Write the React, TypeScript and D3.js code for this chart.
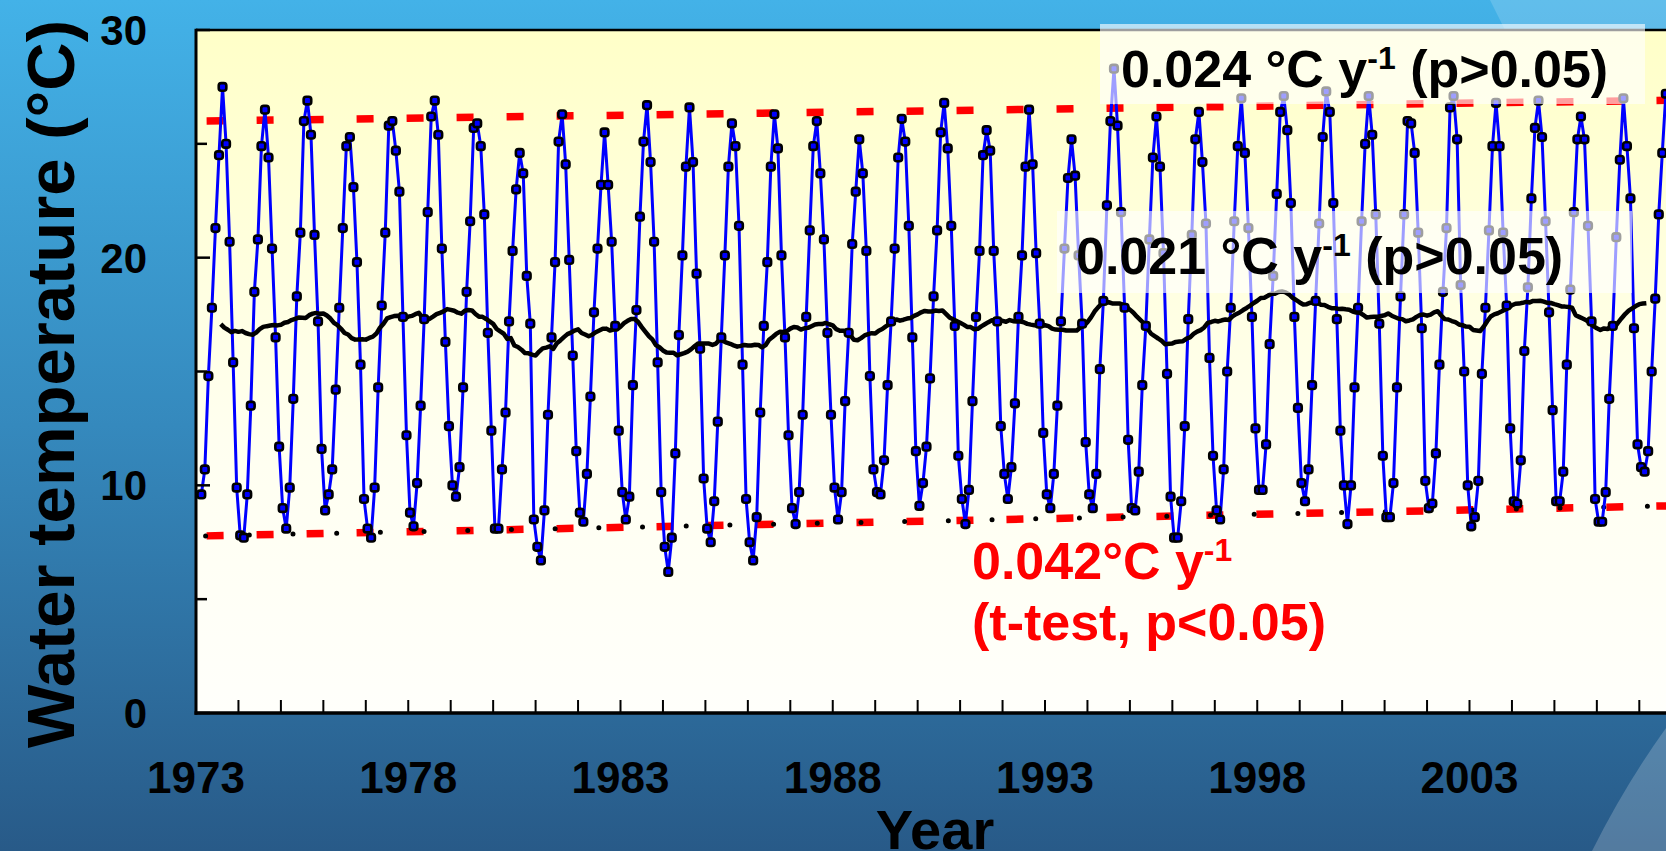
import React from "react";
import * as d3 from "d3";

// monthly water temperature (°C), Jan..Dec, one row per year starting 1973
const firstYear = 1973;
const monthlyTemps: (number | null)[][] = [
  [null, 9.6, 10.7, 14.8, 17.8, 21.3, 24.5, 27.5, 25.0, 20.7, 15.4, 9.9], // 1973
  [7.8, 7.7, 9.6, 13.5, 18.5, 20.8, 24.9, 26.5, 24.4, 20.4, 16.5, 11.7],
  [9.0, 8.1, 9.9, 13.8, 18.3, 21.1, 26.0, 26.9, 25.4, 21.0, 17.2, 11.6],
  [8.9, 9.6, 10.7, 14.2, 17.8, 21.3, 24.9, 25.3, 23.1, 19.8, 15.3, 9.4],
  [8.1, 7.7, 9.9, 14.3, 17.9, 21.1, 25.8, 26.0, 24.7, 22.9, 17.4, 12.2],
  [8.8, 8.2, 10.1, 13.5, 17.3, 22.0, 26.2, 26.9, 25.4, 20.4, 16.3, 12.6], // 1978
  [10.0, 9.5, 10.8, 14.3, 18.5, 21.6, 25.7, 25.9, 24.9, 21.9, 16.7, 12.4],
  [8.1, 8.1, 10.7, 13.2, 17.2, 20.3, 23.0, 24.6, 23.7, 19.2, 17.1, 8.5],
  [7.3, 6.7, 8.9, 13.1, 16.5, 19.8, 25.1, 26.3, 24.1, 19.9, 15.7, 11.5],
  [8.8, 8.4, 10.5, 13.9, 17.6, 20.4, 23.2, 25.5, 23.2, 20.7, 17.0, 12.4],
  [9.7, 8.5, 9.5, 14.4, 17.7, 21.8, 25.1, 26.7, 24.2, 20.7, 15.4, 9.7], // 1983
  [7.3, 6.2, 7.7, 11.4, 16.6, 20.1, 24.0, 26.6, 24.2, 19.3, 16.0, 10.3],
  [8.1, 7.5, 9.3, 12.8, 16.5, 20.1, 24.0, 25.9, 24.9, 21.4, 15.3, 9.4],
  [7.5, 6.7, 8.6, 13.2, 17.0, 19.8, 24.0, 26.3, 24.8, 20.1, 16.5, 12.2],
  [9.0, 8.3, 9.7, 13.1, 17.4, 21.2, 24.9, 26.0, 23.7, 20.8, 16.7, 13.1],
  [9.9, 8.5, 9.7, 13.7, 16.7, 20.6, 22.9, 25.2, 23.7, 20.3, 14.8, 10.7], // 1988
  [9.7, 9.6, 11.1, 14.4, 17.2, 20.4, 24.4, 26.1, 25.1, 21.4, 16.5, 11.5],
  [9.1, 10.1, 11.7, 14.7, 18.3, 21.2, 25.5, 26.8, 24.8, 21.4, 17.0, 11.3],
  [9.4, 8.3, 9.8, 13.7, 17.4, 20.3, 24.5, 25.6, 24.7, 20.3, 17.2, 12.6],
  [10.5, 9.4, 10.8, 13.6, 17.4, 20.1, 24.0, 26.5, 24.1, 20.2, 17.1, 12.3],
  [9.6, 9.0, 10.5, 13.5, 17.2, 20.4, 23.5, 25.2, 23.6, 20.1, 17.1, 11.9], // 1993
  [9.6, 9.0, 10.5, 15.1, 18.1, 22.3, 26.0, 28.3, 25.8, 22.0, 17.8, 12.0],
  [9.0, 8.9, 10.6, 14.4, 17.0, 20.8, 24.4, 26.2, 24.0, 20.2, 14.9, 9.5],
  [7.7, 7.7, 9.3, 12.6, 17.3, 21.0, 25.2, 26.4, 24.2, 21.5, 15.6, 11.3],
  [8.9, 8.5, 10.7, 15.0, 17.8, 21.6, 24.9, 27.0, 24.6, 21.3, 17.4, 12.5],
  [9.8, 9.8, 11.8, 16.2, 19.2, 22.8, 26.4, 27.1, 25.6, 22.4, 17.4, 13.4], // 1998
  [10.1, 9.3, 10.7, 14.4, 18.1, 21.5, 25.3, 27.3, 26.4, 22.4, 17.3, 12.4],
  [10.0, 8.3, 10.0, 14.3, 17.8, 21.6, 25.0, 27.1, 25.4, 21.9, 17.1, 11.3],
  [8.6, 8.6, 10.1, 14.3, 18.3, 21.9, 26.0, 25.9, 24.6, 21.1, 16.9, 10.2],
  [9.0, 9.2, 11.4, 15.3, 18.5, 21.3, 26.6, 27.1, 25.2, 18.8, 15.0, 10.0],
  [8.2, 8.6, 10.2, 14.9, 17.8, 21.2, 24.9, 26.8, 24.9, 21.1, 17.9, 12.5], // 2003
  [9.3, 9.2, 11.1, 15.9, 18.7, 22.6, 25.7, 26.9, 25.3, 21.6, 17.6, 13.3],
  [9.3, 9.3, 10.6, 15.3, 18.6, 22.0, 25.2, 26.2, 25.2, 21.4, 17.2, 9.4],
  [8.4, 8.4, 9.7, 13.8, 17.0, 20.9, 24.3, 27.0, 24.9, 22.6, 16.9, 11.8],
  [10.8, 10.6, 11.5, 15.0, 18.2, 21.9, 24.6, 27.2], // 2007
];

const yearLabels = [1973, 1978, 1983, 1988, 1993, 1998, 2003];
const tempTicks = [0, 5, 10, 15, 20, 25, 30];
const tempLabels = [0, 10, 20, 30];

// trend of annual maxima / minima, read at both ends
const trendYears = [1973.25, 2008];
const maxTrendTemps = [26.0, 26.92];
const minTrendTemps = [7.78, 9.11];

const W = 1666;
const H = 851;
const FONT = "'Liberation Sans', Arial, Helvetica, sans-serif";

const x = d3.scaleLinear().domain([1973, 2008]).range([196, 196 + 35 * 42.45]);
const y = d3.scaleLinear().domain([0, 30]).range([713, 30]);

type Pt = { date: number; t: number | null };

const grid: Pt[] = monthlyTemps.flatMap((row, i) =>
  row.map((t, m) => ({ date: firstYear + i + (m + 0.5) / 12, t }))
);
const points = grid.filter((d) => d.t != null) as { date: number; t: number }[];

// 12-month running mean
const runMean: { date: number; t: number }[] = [];
for (let i = 0; i + 12 <= grid.length; i++) {
  const vals = grid.slice(i, i + 12).map((d) => d.t).filter((v) => v != null) as number[];
  if (vals.length === 12) {
    runMean.push({ date: firstYear + (i + 6) / 12, t: d3.mean(vals) as number });
  }
}

const line = d3
  .line<{ date: number; t: number }>()
  .x((d) => x(d.date))
  .y((d) => y(d.t));

const Sup = ({ children }: { children: string }) => (
  <tspan fontSize={32} dy={-18}>
    {children}
  </tspan>
);

export default function App() {
  return (
    <svg width={W} height={H} style={{ display: "block", position: "absolute", left: 0, top: 0 }} fontFamily={FONT} fontWeight="bold">
      <defs>
        <linearGradient id="bg" x1="0" y1="0" x2="0" y2="1">
          <stop offset="0%" stopColor="#43b2e8" />
          <stop offset="50%" stopColor="#3589bd" />
          <stop offset="100%" stopColor="#285a88" />
        </linearGradient>
        <linearGradient id="plotBg" x1="0" y1="0" x2="0" y2="1">
          <stop offset="0%" stopColor="#ffffc8" />
          <stop offset="60%" stopColor="#fffff0" />
          <stop offset="100%" stopColor="#fffffb" />
        </linearGradient>
      </defs>

      <rect x={0} y={0} width={W} height={H} fill="url(#bg)" />
      <path d="M1490,0 L1666,0 L1666,30 L1505,30 Z" fill="#ffffff" opacity={0.16} />
      <path d="M1592,851 Q1625,785 1666,728 L1666,851 Z" fill="#ffffff" opacity={0.2} />

      <rect x={196} y={30} width={W - 196} height={683} fill="url(#plotBg)" />

      {/* trend lines */}
      <line x1={x(trendYears[0])} x2={x(trendYears[1])} y1={y(maxTrendTemps[0])} y2={y(maxTrendTemps[1])}
        stroke="#ff0000" strokeWidth={7.5} strokeDasharray="17 33" />
      <line x1={x(trendYears[0])} x2={x(trendYears[1])} y1={y(minTrendTemps[0])} y2={y(minTrendTemps[1])}
        stroke="#ff0000" strokeWidth={7.5} strokeDasharray="17 33" />
      <line x1={x(trendYears[0]) - 1} x2={x(trendYears[1])} y1={y(minTrendTemps[0])} y2={y(minTrendTemps[1])}
        stroke="#000" strokeWidth={5} strokeDasharray="0 43.7" strokeLinecap="round" />

      <path d={line(points) ?? ""} fill="none" stroke="#0000ff" strokeWidth={3} />
      <path d={line(runMean) ?? ""} fill="none" stroke="#000" strokeWidth={4.5} strokeLinejoin="round" />

      {points.map((d, i) => (
        <rect key={i} x={x(d.date) - 3.8} y={y(d.t) - 3.8} width={7.6} height={7.6} rx={2.5}
          fill="#0000ff" stroke="#000" strokeWidth={2.6} />
      ))}

      {/* axes */}
      <line x1={196} x2={W} y1={30} y2={30} stroke="#000" strokeWidth={2.5} />
      <line x1={196} x2={196} y1={28.8} y2={714.7} stroke="#000" strokeWidth={3} />
      <line x1={194.5} x2={W} y1={713} y2={713} stroke="#000" strokeWidth={3.4} />
      {tempTicks.map((t) => (
        <line key={t} x1={196} x2={196 + (t % 10 === 0 ? 14 : 11)} y1={y(t)} y2={y(t)} stroke="#000" strokeWidth={2.5} />
      ))}
      {d3.range(1974, 2008).map((yr) => (
        <line key={yr} x1={x(yr)} x2={x(yr)} y1={713} y2={700} stroke="#000" strokeWidth={2} />
      ))}
      {tempLabels.map((t) => (
        <text key={t} x={147} y={y(t) + 15} fontSize={42} textAnchor="end" fill="#000">
          {t}
        </text>
      ))}
      {yearLabels.map((yr) => (
        <text key={yr} x={x(yr)} y={793} fontSize={44} textAnchor="middle" fill="#000">
          {yr}
        </text>
      ))}
      <text x={935} y={849} fontSize={56} textAnchor="middle" fill="#000">
        Year
      </text>
      <text transform="translate(74,384) rotate(-90)" fontSize={67} textAnchor="middle" fill="#000">
        Water temperature (°C)
      </text>

      {/* slope labels */}
      <rect x={1100} y={24} width={545} height={80} fill="#ffffff" opacity={0.62} />
      <text x={1121} y={87} fontSize={52} fill="#000">
        0.024 °C y<Sup>-1</Sup>
        <tspan dy={18}> (p&gt;0.05)</tspan>
      </text>
      <rect x={1057} y={211} width={575} height={82} fill="#ffffff" opacity={0.62} />
      <text x={1076} y={274} fontSize={52} fill="#000">
        0.021 °C y<Sup>-1</Sup>
        <tspan dy={18}> (p&gt;0.05)</tspan>
      </text>
      <text x={972} y={579} fontSize={52} fill="#ff0000">
        0.042°C y<Sup>-1</Sup>
      </text>
      <text x={972} y={640} fontSize={52} fill="#ff0000">
        (t-test, p&lt;0.05)
      </text>
    </svg>
  );
}
